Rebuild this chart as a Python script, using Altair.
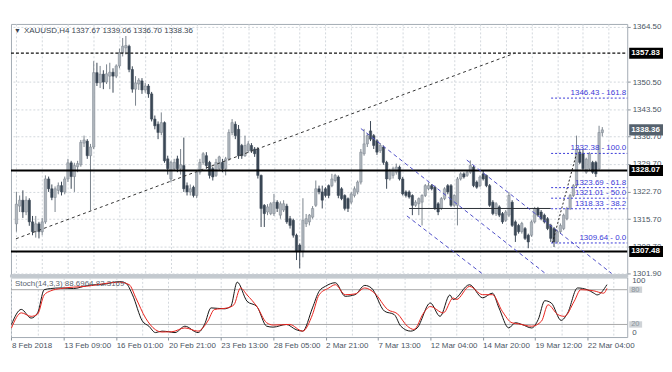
import altair as alt
import pandas as pd

# ---------------- candle data (H4 XAUUSD) ----------------
opens = [
    1314.5, 1319.0, 1320.5, 1317.5, 1320.5, 1315.0, 1312.5, 1314.5, 1312.5, 1315.0,
    1325.9, 1323.4, 1321.2, 1323.0, 1324.2, 1322.6, 1325.9, 1330.0, 1326.5, 1329.0,
    1329.5, 1335.0, 1335.5, 1331.8, 1334.0, 1352.9, 1350.3, 1352.5, 1350.5, 1352.0,
    1353.0, 1352.0, 1354.6, 1358.0, 1359.2, 1359.6, 1353.7, 1348.7, 1350.0, 1350.8,
    1348.5, 1349.5, 1347.5, 1341.1, 1339.8, 1337.7, 1340.2, 1331.0,
    1325.9, 1328.5, 1331.0, 1328.5, 1329.3, 1324.2, 1322.6, 1323.8, 1321.7, 1327.6,
    1330.1, 1331.8, 1330.1, 1328.5, 1326.8, 1328.5, 1330.1, 1328.5, 1331.0, 1337.7,
    1339.8, 1338.5, 1334.4, 1331.8, 1333.0, 1334.4, 1333.5, 1333.5, 1326.8, 1319.2,
    1317.5, 1317.1, 1317.1, 1320.0, 1316.7, 1318.0, 1319.0, 1315.8, 1315.4, 1311.6,
    1309.1, 1307.4, 1314.5, 1315.0, 1316.2, 1319.2, 1323.4,
    1322.6, 1323.4, 1324.2, 1324.2, 1325.5, 1326.4, 1323.4, 1321.7, 1320.9, 1320.0,
    1321.7, 1322.6, 1325.1, 1332.3, 1334.8, 1338.1, 1336.9, 1335.6, 1333.1, 1334.0,
    1330.1, 1325.9, 1326.8, 1327.6, 1328.9, 1325.9, 1322.6, 1322.6, 1321.7, 1319.2,
    1319.6, 1320.0, 1321.7, 1323.4, 1324.2, 1323.8, 1319.6, 1318.4, 1320.9, 1324.2,
    1324.2, 1319.2, 1319.2, 1325.9, 1327.2, 1326.8, 1327.6, 1328.9, 1325.1,
    1324.2, 1327.2, 1326.8, 1324.2, 1320.0, 1317.1, 1318.8, 1317.1, 1315.4, 1316.7,
    1320.0, 1315.0, 1314.1, 1312.5, 1313.3, 1311.6, 1311.6, 1315.0, 1318.4, 1317.5,
    1316.7, 1315.8, 1314.1, 1313.3, 1309.9, 1312.5, 1313.3, 1315.8, 1318.4, 1321.7,
    1324.2, 1332.7, 1332.3, 1327.6, 1328.5, 1330.1, 1330.1, 1328.5, 1337.67,
]
highs = [
    1322.6, 1321.7, 1323.0, 1321.5, 1321.0, 1316.5, 1316.5, 1315.0, 1316.0, 1326.8,
    1326.5, 1324.5, 1324.0, 1325.0, 1325.2, 1326.5, 1331.0, 1330.5, 1330.0, 1330.5,
    1335.8, 1336.9, 1336.0, 1334.8, 1355.8, 1355.4, 1354.6, 1353.5, 1355.0, 1355.4,
    1354.0, 1355.0, 1359.0, 1361.7, 1362.2, 1360.0, 1354.5, 1352.0, 1351.5, 1351.5,
    1350.3, 1350.0, 1348.0, 1342.0, 1340.5, 1342.8, 1340.5, 1331.8,
    1330.5, 1331.0, 1331.8, 1333.5, 1336.4, 1325.0, 1324.5, 1324.2, 1328.0, 1331.0,
    1332.7, 1332.7, 1330.5, 1329.0, 1331.0, 1331.8, 1331.0, 1331.5, 1338.5, 1341.1,
    1340.5, 1339.6, 1334.8, 1336.9, 1335.5, 1335.0, 1334.0, 1334.0, 1327.0, 1319.5,
    1319.5, 1320.0, 1322.1, 1320.5, 1320.2, 1320.5, 1319.6, 1316.5, 1315.8, 1312.0,
    1309.5, 1321.0, 1317.0, 1317.0, 1319.0, 1325.5, 1324.2,
    1324.2, 1323.8, 1324.5, 1327.2, 1327.2, 1326.8, 1323.8, 1322.0, 1321.2, 1322.6,
    1324.0, 1325.5, 1333.5, 1338.6, 1337.5, 1340.6, 1337.3, 1336.0, 1335.0, 1334.4,
    1330.5, 1328.5, 1329.0, 1329.8, 1329.3, 1326.4, 1323.0, 1323.0, 1322.0, 1320.5,
    1321.2, 1322.0, 1324.6, 1325.0, 1324.6, 1324.2, 1320.0, 1321.3, 1323.8, 1324.6,
    1324.6, 1322.0, 1326.4, 1327.6, 1327.6, 1328.0, 1330.6, 1329.3, 1325.5,
    1326.8, 1328.1, 1327.0, 1324.6, 1320.5, 1320.0, 1319.2, 1317.5, 1318.0, 1322.6,
    1320.5, 1315.4, 1314.5, 1315.0, 1313.7, 1312.0, 1315.4, 1318.8, 1318.8, 1318.0,
    1317.1, 1316.2, 1314.5, 1313.7, 1313.0, 1314.6, 1317.1, 1318.8, 1322.1, 1324.6,
    1336.9, 1333.5, 1333.5, 1331.3, 1332.7, 1330.5, 1330.5, 1339.4, 1339.06,
]
lows = [
    1312.5, 1317.5, 1316.0, 1316.7, 1314.0, 1311.6, 1311.0, 1310.8, 1311.6, 1314.5,
    1322.6, 1320.5, 1317.5, 1322.0, 1321.7, 1322.0, 1325.1, 1323.4, 1322.6, 1327.6,
    1329.0, 1334.0, 1331.0, 1317.9, 1333.5, 1349.5, 1349.0, 1348.7, 1350.0, 1348.7,
    1347.8, 1351.5, 1354.0, 1357.0, 1357.5, 1353.0, 1347.8, 1344.5, 1348.5, 1347.5,
    1347.8, 1346.5, 1340.5, 1338.5, 1336.0, 1337.0, 1330.0, 1327.0,
    1325.0, 1328.0, 1327.6, 1327.0, 1322.6, 1321.7, 1321.7, 1321.2, 1321.0, 1327.0,
    1329.5, 1328.5, 1326.0, 1325.5, 1326.4, 1328.0, 1327.6, 1326.8, 1330.5, 1337.0,
    1336.0, 1331.0, 1331.0, 1331.5, 1332.5, 1332.5, 1331.5, 1326.0, 1313.7, 1313.7,
    1316.7, 1316.7, 1316.5, 1317.5, 1315.8, 1317.5, 1314.5, 1313.3, 1311.0, 1305.3,
    1303.2, 1306.0, 1313.7, 1314.1, 1315.8, 1318.8, 1322.0,
    1318.4, 1321.2, 1321.0, 1323.8, 1325.0, 1321.0, 1320.5, 1317.9, 1317.5, 1319.5,
    1321.2, 1322.0, 1324.5, 1331.8, 1334.0, 1335.5, 1333.5, 1332.0, 1332.5, 1329.5,
    1323.4, 1325.5, 1326.0, 1327.0, 1325.5, 1321.7, 1321.2, 1320.9, 1316.7, 1318.8,
    1316.7, 1314.1, 1321.3, 1323.0, 1323.0, 1318.0, 1316.7, 1318.0, 1320.5, 1322.0,
    1318.8, 1318.8, 1314.1, 1325.5, 1326.0, 1326.4, 1327.2, 1323.8, 1323.4,
    1323.8, 1325.5, 1323.8, 1318.8, 1316.7, 1316.5, 1316.2, 1314.5, 1315.0, 1316.2,
    1313.7, 1309.9, 1312.0, 1312.0, 1310.4, 1308.3, 1311.2, 1314.6, 1316.3, 1315.4,
    1314.6, 1312.9, 1309.9, 1308.6, 1309.5, 1312.0, 1312.9, 1315.4, 1318.0, 1321.3,
    1323.8, 1329.7, 1328.0, 1327.2, 1328.0, 1327.2, 1326.4, 1328.1, 1336.70,
]
closes = [
    1319.5, 1320.5, 1317.5, 1320.5, 1315.0, 1312.5, 1314.5, 1312.5, 1315.0, 1325.9,
    1323.4, 1321.2, 1323.4, 1324.2, 1322.6, 1325.9, 1330.0, 1326.5, 1329.3, 1329.8,
    1335.2, 1335.8, 1331.8, 1334.0, 1352.9, 1350.3, 1352.5, 1350.5, 1352.6, 1353.0,
    1352.0, 1354.6, 1358.0, 1359.6, 1359.8, 1353.7, 1348.7, 1350.3, 1351.0, 1348.5,
    1349.5, 1347.5, 1341.1, 1339.4, 1337.7, 1340.2, 1330.5, 1328.5,
    1330.1, 1330.1, 1328.5, 1329.5, 1323.4, 1322.6, 1323.4, 1321.7, 1327.6, 1330.1,
    1332.3, 1329.3, 1326.8, 1326.4, 1330.1, 1331.5, 1328.5, 1331.0, 1337.7, 1340.2,
    1336.9, 1331.8, 1331.8, 1334.4, 1334.8, 1333.1, 1332.3, 1326.8, 1318.4, 1317.1,
    1318.8, 1319.6, 1320.0, 1318.4, 1319.6, 1319.6, 1315.0, 1314.1, 1311.6, 1307.4,
    1307.4, 1315.4, 1315.8, 1316.7, 1318.4, 1323.4, 1322.6,
    1320.5, 1321.7, 1321.7, 1325.9, 1326.8, 1321.7, 1320.9, 1318.4, 1318.4, 1322.1,
    1323.4, 1325.1, 1332.7, 1334.8, 1336.9, 1336.0, 1334.4, 1332.7, 1334.4, 1330.1,
    1325.9, 1328.1, 1328.5, 1328.9, 1325.9, 1322.1, 1321.7, 1321.3, 1319.2, 1320.0,
    1320.9, 1321.7, 1324.2, 1324.2, 1323.4, 1318.4, 1317.5, 1320.9, 1323.4, 1322.6,
    1319.2, 1321.7, 1325.9, 1327.2, 1326.4, 1327.6, 1329.3, 1324.2, 1323.8,
    1326.4, 1325.9, 1324.2, 1319.2, 1317.1, 1319.6, 1316.7, 1315.0, 1317.5, 1321.7,
    1314.1, 1311.6, 1312.5, 1314.6, 1310.8, 1309.9, 1315.0, 1318.4, 1316.7, 1315.8,
    1315.0, 1313.3, 1310.8, 1309.9, 1312.5, 1314.1, 1316.7, 1318.4, 1321.7, 1324.2,
    1333.5, 1330.1, 1328.5, 1330.9, 1332.3, 1327.6, 1327.2, 1337.7, 1338.36,
]

date_labels = ["8 Feb 2018", "13 Feb 09:00", "16 Feb 01:00", "20 Feb 21:00",
               "23 Feb 13:00", "28 Feb 05:00", "2 Mar 21:00", "7 Mar 13:00",
               "12 Mar 04:00", "14 Mar 20:00", "19 Mar 12:00", "22 Mar 04:00"]
bars_per_label = 16

# 1357.50 is hidden under the 1357.83 marker in the reference
price_ticks = [1364.50, 1350.50, 1343.50, 1336.70, 1329.70,
               1322.70, 1315.70, 1308.70, 1301.90]

solid_levels = [1328.07, 1307.48]
dash_level = 1357.83
current_price = 1338.36

mid_line_i = [122, 166]
mid_line_p = 1318.4

trend_i = [-0.15, 154.8]
trend_p = [1310.7, 1357.83]

chan_id = ["U", "U", "M", "M", "L", "L"]
chan_i = [107.0, 164.3, 139.9, 184.9, 121.3, 144.6]
chan_p = [1338.7, 1301.9, 1330.7, 1301.9, 1316.5, 1301.9]

fib_prices = [1346.43, 1332.38, 1323.69, 1321.01, 1318.33, 1309.64]
fib_pcts = ["161.8", "100.0", "61.8", "50.0", "38.2", "0.0"]
fib_start = 166.1
fib_diag_i = [166.5, 174.0]
fib_diag_p = [1309.64, 1332.38]

k_idx = [0, 3, 6, 8, 10, 12, 15, 19, 23, 29, 33, 35, 37, 40, 42, 44, 46, 48, 50, 53,
         57, 59, 61, 65, 67, 69, 72, 75, 78, 80, 84, 87, 89, 92, 94, 96, 99, 102, 105, 108,
         110, 114, 117, 119, 122, 124, 128, 131, 134, 135, 140, 144, 147, 149, 152, 154,
         156, 159, 161, 163, 165, 168, 170, 173, 176, 178, 179, 182]
k_val = [20, 46, 31, 40, 80, 82, 83, 82, 87, 90, 94, 91, 71, 26, 17, 6, 8.5, 7.5, 6, 17,
         6, 20, 48.6, 47, 51, 93, 60, 51, 17, 15.4, 20, 11, 8.5, 48.6, 77, 86, 92, 68.6, 71.4, 87.4,
         83, 43, 37, 17, 8.5, 14, 57, 34, 71, 63, 88.6, 66, 74, 48.6, 14, 23,
         20, 14, 28.6, 61, 57, 27, 40, 83, 80, 74, 71, 88.7]
d_idx = [0, 3, 6, 8, 10, 12, 15, 23, 33, 36, 38, 41, 44, 46, 49, 53, 57, 60, 62, 66,
         68, 70, 72, 75, 78, 80, 85, 89, 92, 94, 97, 99, 102, 105, 108, 111, 115, 118, 121, 123,
         126, 128, 132, 135, 136, 140, 144, 147, 150, 153, 155, 159, 162, 164, 167, 169,
         172, 174, 178, 181, 182]
d_val = [14, 40, 34, 38, 71, 78, 82, 86, 93, 88.6, 66, 31, 11, 7, 7.4, 14, 8.5, 25.7, 45.7, 48.6,
         54, 83, 71, 51, 23, 19, 20, 8.5, 37, 71, 83, 88.6, 71.4, 72.6, 83, 74, 45.7, 38.3, 17, 11.4,
         40, 51, 40, 65.7, 63, 85.7, 71.4, 71.4, 42.8, 22.8, 21, 17, 25.7, 54, 37, 34,
         60, 80, 78, 74, 82.3]
stoch_levels = [80, 20]
stoch_label = "Stoch(14,3,3) 88.6964 82.3169"

# ---------------- styling ----------------
W, H1, H2 = 620, 252, 60
XDOM = [-0.15, 188.2]
YDOM = [1301.65, 1365.26]
SDOM = [-1.7, 101.2]
FONT = "Liberation Sans"
GRID = "#d3d8dd"
LBL = "#4a5563"
BULL = "#aeb5bc"
BULL_LINE = "#7b848d"
BEAR = "#3a4755"
CHAN = "#5050c8"
FIB = "#3a3ad8"
FRAME = "#a3abb3"

candles = pd.DataFrame({"i": list(range(len(opens))), "o": opens, "h": highs,
                        "l": lows, "c": closes})
candles["dir"] = ["up" if c >= o else "down" for o, c in zip(opens, closes)]

grid_idx = list(range(0, 189, 8))
xs = alt.Scale(domain=XDOM, nice=False, zero=False)
ys = alt.Scale(domain=YDOM, nice=False, zero=False)
ss = alt.Scale(domain=SDOM, nice=False, zero=False)

x_main_axis = alt.Axis(values=grid_idx, labels=False, ticks=False, domain=False, grid=True,
                       gridDash=[2, 2], gridColor=GRID, title=None)
y_main_axis = alt.Axis(orient="right", values=price_ticks, format=".2f", labelFont=FONT,
                       labelFontSize=8, labelColor=LBL, tickSize=3, tickColor="#8a939c",
                       domain=False, grid=True, gridDash=[2, 2], gridColor=GRID, title=None,
                       labelPadding=2, labelOverlap=False)


def X(field="i"):
    return alt.X(f"{field}:Q", scale=xs, axis=x_main_axis)


def Y(field):
    return alt.Y(f"{field}:Q", scale=ys, axis=y_main_axis)


wicks = alt.Chart(candles).mark_rule(strokeWidth=1).encode(
    x=X(), y=Y("l"), y2="h:Q",
    color=alt.Color("dir:N", scale=alt.Scale(domain=["up", "down"], range=[BULL_LINE, BEAR]), legend=None))
bodies = alt.Chart(candles).mark_bar(size=2.4, strokeWidth=0.5).encode(
    x=X(), y=Y("o"), y2="c:Q",
    fill=alt.Fill("dir:N", scale=alt.Scale(domain=["up", "down"], range=[BULL, BEAR]), legend=None),
    stroke=alt.Stroke("dir:N", scale=alt.Scale(domain=["up", "down"], range=[BULL_LINE, BEAR]), legend=None))

solid = alt.Chart(pd.DataFrame({"p": solid_levels})).mark_rule(color="#000000", strokeWidth=2).encode(
    y=Y("p"), x=alt.value(0), x2=alt.value(W))
dashed = alt.Chart(pd.DataFrame({"p": [dash_level]})).mark_rule(
    color="#111111", strokeWidth=1.2, strokeDash=[3, 2]).encode(y=Y("p"), x=alt.value(0), x2=alt.value(W))
midline = alt.Chart(pd.DataFrame({"i": [mid_line_i[0]], "i2": [mid_line_i[1]], "p": [mid_line_p]})).mark_rule(
    color="#2a2f35", strokeWidth=1).encode(x=X(), x2="i2:Q", y=Y("p"))
trend = alt.Chart(pd.DataFrame({"i": trend_i, "p": trend_p})).mark_line(
    color="#333333", strokeWidth=1, strokeDash=[3, 3]).encode(x=X(), y=Y("p"))
channel = alt.Chart(pd.DataFrame({"id": chan_id, "i": chan_i, "p": chan_p})).mark_line(
    color=CHAN, strokeWidth=1, strokeDash=[4, 3]).encode(x=X(), y=Y("p"), detail="id:N")
fibdiag = alt.Chart(pd.DataFrame({"i": fib_diag_i, "p": fib_diag_p})).mark_line(
    color="#222222", strokeWidth=1, strokeDash=[2, 2]).encode(x=X(), y=Y("p"))

fib_df = pd.DataFrame({"i": [fib_start] * len(fib_prices), "p": fib_prices,
                       "lab": [f"{p:.2f} - {q}" for p, q in zip(fib_prices, fib_pcts)]})
fib_lines = alt.Chart(fib_df).mark_rule(color=FIB, strokeWidth=1, strokeDash=[2, 2]).encode(
    x=X(), x2=alt.value(W), y=Y("p"))
fib_text = alt.Chart(fib_df).mark_text(align="right", baseline="bottom", dy=-1, font=FONT,
                                       fontSize=8, color=FIB).encode(
    x=alt.value(W - 1), y=Y("p"), text="lab:N")

box_df = pd.DataFrame({"p": [dash_level] + solid_levels + [current_price],
                       "bg": ["#000000", "#000000", "#000000", "#55616d"]})
boxes = alt.Chart(box_df).transform_calculate(lo="datum.p - 1.4", hi="datum.p + 1.4").mark_rect().encode(
    x=alt.value(W + 2), x2=alt.value(W + 36), y=Y("lo"), y2="hi:Q", color=alt.Color("bg:N", scale=None))
box_text = alt.Chart(box_df).mark_text(align="left", baseline="middle", font=FONT, fontSize=8,
                                       fontWeight="bold", color="#ffffff").encode(
    x=alt.value(W + 4), y=Y("p"), text=alt.Text("p:Q", format=".2f"))

header = f"XAUUSD,H4  {opens[-1]:.2f} {highs[-1]:.2f} {lows[-1]:.2f} {closes[-1]:.2f}"
head_txt = alt.Chart(pd.DataFrame({"t": [header]})).mark_text(
    align="left", baseline="middle", font=FONT, fontSize=8, color="#3b4652").encode(
    x=alt.value(13), y=alt.value(7), text="t:N")
head_tri = alt.Chart(pd.DataFrame({"t": ["▼"]})).mark_text(
    align="left", baseline="middle", fontSize=7, color="#3b4652").encode(
    x=alt.value(3), y=alt.value(7), text="t:N")

main = alt.layer(wicks, bodies, solid, dashed, midline, trend, channel, fibdiag,
                 fib_lines, fib_text, boxes, box_text, head_tri, head_txt).properties(width=W, height=H1)

# ---------------- stochastic panel ----------------
lab_arr = "[" + ",".join(f"'{s}'" for s in date_labels) + "]"
sx_axis = alt.Axis(values=grid_idx,
                   labelExpr=f"datum.value % {bars_per_label} === 0 ? ({lab_arr}[datum.value/{bars_per_label}] || '') : ''",
                   labelAlign="left", labelFont=FONT, labelFontSize=8, labelColor=LBL,
                   tickSize=3, tickColor="#8a939c",
                   tickOpacity={"expr": f"datum.value % {bars_per_label} === 0 ? 1 : 0"},
                   grid=True, gridDash=[2, 2], gridColor=GRID, domain=False, title=None,
                   labelPadding=2, labelOverlap=False, labelFlush=False)
SX = alt.X("i:Q", scale=xs, axis=sx_axis)
SY = alt.Y("v:Q", scale=ss, axis=None)

separator = alt.Chart(pd.DataFrame({"t": [0]})).mark_rect(color="#c3c9cf").encode(
    x=alt.value(-1), x2=alt.value(W + 1), y=alt.value(-3), y2=alt.value(0))
s_lv = alt.Chart(pd.DataFrame({"v": stoch_levels})).mark_rule(color="#a8a8a8", strokeWidth=1).encode(
    y=SY, x=alt.value(0), x2=alt.value(W))
k_line = alt.Chart(pd.DataFrame({"i": k_idx, "v": k_val})).mark_line(
    color="#151515", strokeWidth=1, interpolate="monotone").encode(x=SX, y=SY)
d_line = alt.Chart(pd.DataFrame({"i": d_idx, "v": d_val})).mark_line(
    color="#e8231d", strokeWidth=1, interpolate="monotone").encode(x=SX, y=SY)
s_label = alt.Chart(pd.DataFrame({"t": [stoch_label]})).mark_text(
    align="left", baseline="middle", font=FONT, fontSize=8, color="#5a6570").encode(
    x=alt.value(4), y=alt.value(7), text="t:N")
lv_df = pd.DataFrame({"v": stoch_levels, "t": [str(v) for v in stoch_levels]})
s_boxes = alt.Chart(lv_df).transform_calculate(lo="datum.v - 5.5", hi="datum.v + 5.5").mark_rect(
    color="#cfd3d7").encode(x=alt.value(W + 2), x2=alt.value(W + 15), y=alt.Y("lo:Q", scale=ss, axis=None), y2="hi:Q")
s_box_txt = alt.Chart(lv_df).mark_text(align="left", baseline="middle", font=FONT, fontSize=7.5,
                                       color="#8b949c").encode(x=alt.value(W + 4), y=SY, text="t:N")
s_top = alt.Chart(pd.DataFrame({"v": [100], "t": ["100"]})).mark_text(
    align="left", baseline="top", dy=-1, font=FONT, fontSize=8, color=LBL).encode(
    x=alt.value(W + 5), y=SY, text="t:N")
s_bot = alt.Chart(pd.DataFrame({"v": [0], "t": ["0"]})).mark_text(
    align="left", baseline="bottom", dy=1, font=FONT, fontSize=8, color=LBL).encode(
    x=alt.value(W + 5), y=SY, text="t:N")

stoch = alt.layer(separator, s_lv, k_line, d_line, s_label, s_boxes, s_box_txt, s_top, s_bot).properties(
    width=W, height=H2)

chart = alt.vconcat(main, stoch, spacing=3, bounds="flush").resolve_scale(
    x="independent", y="independent", color="independent"
).properties(
    padding={"left": 0, "top": 13, "right": 0, "bottom": 0}
).configure_view(stroke=FRAME, strokeWidth=1)

chart.save("out.html", embed_options={"renderer": "svg", "actions": False})
